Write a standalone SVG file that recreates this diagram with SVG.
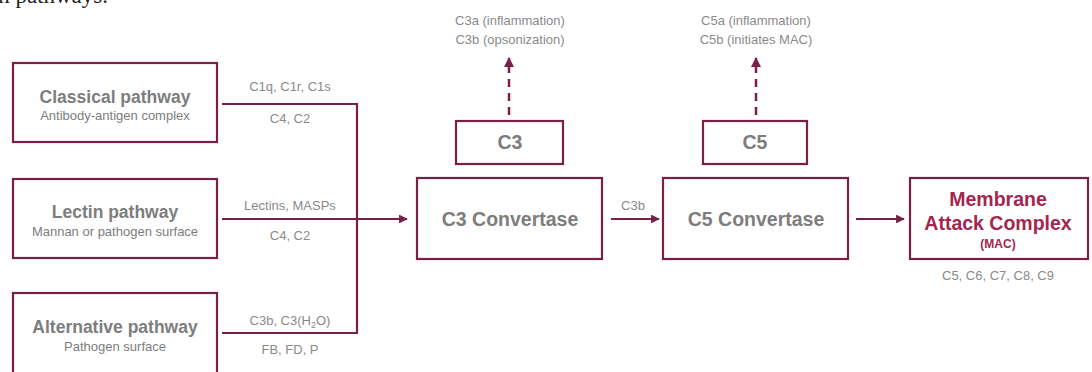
<svg xmlns="http://www.w3.org/2000/svg" width="1092" height="372" viewBox="0 0 1092 372">
<defs>
<style>
.box{fill:#fff;stroke:#7a1f47;stroke-width:2.2}
.ln{fill:none;stroke:#7a1f47;stroke-width:2.2}
.dash{fill:none;stroke:#7a1f47;stroke-width:2.5;stroke-dasharray:8 6}
.t{font-family:"Liberation Sans",Arial,sans-serif;fill:#7d7d7d;text-anchor:middle}
.title{font-size:17.5px;font-weight:bold}
.sub{font-size:13px}
.lbl{font-size:13px;fill:#8a8a8a}
.big{font-size:19.5px;font-weight:bold}
.mac{fill:#a3264f;font-weight:bold}
</style>
<marker id="ah" viewBox="0 0 10 10" refX="9" refY="5" markerWidth="4" markerHeight="4" orient="auto">
<path d="M0,0 L10,5 L0,10 z" fill="#7a1f47"/>
</marker>
</defs>
<rect width="1092" height="372" fill="#fff"/>
<text x="108" y="3" font-family="'Liberation Serif',serif" font-size="23" text-anchor="end" fill="#222">n pathways.</text>

<g id="connectors">
<polyline class="ln" points="222,104 357,104 357,333 222,333"/>
<line class="ln" x1="222" y1="219" x2="407" y2="219" marker-end="url(#ah)"/>
<line class="ln" x1="611" y1="219" x2="659" y2="219" marker-end="url(#ah)"/>
<line class="ln" x1="856" y1="219" x2="904" y2="219" marker-end="url(#ah)"/>
<line class="dash" x1="509" y1="115" x2="509" y2="58" marker-end="url(#ah)"/>
<line class="dash" x1="756" y1="115" x2="756" y2="58" marker-end="url(#ah)"/>
<text class="t lbl" x="290" y="91">C1q, C1r, C1s</text>
<text class="t lbl" x="290" y="123">C4, C2</text>
<text class="t lbl" x="290" y="210">Lectins, MASPs</text>
<text class="t lbl" x="290" y="240">C4, C2</text>
<text class="t lbl" x="290" y="325">C3b, C3(H<tspan font-size="9" dy="3">2</tspan><tspan dy="-3">O)</tspan></text>
<text class="t lbl" x="290" y="354">FB, FD, P</text>
<text class="t lbl" x="633" y="210">C3b</text>
<text class="t lbl" x="510" y="25">C3a (inflammation)</text>
<text class="t lbl" x="510" y="44">C3b (opsonization)</text>
<text class="t lbl" x="756" y="25">C5a (inflammation)</text>
<text class="t lbl" x="756" y="44">C5b (initiates MAC)</text>
</g>

<g id="classical">
<rect class="box" x="13" y="63" width="204" height="79"/>
<text class="t title" x="115" y="103">Classical pathway</text>
<text class="t sub" x="115" y="120">Antibody-antigen complex</text>
</g>
<g id="lectin">
<rect class="box" x="13" y="179" width="204" height="79"/>
<text class="t title" x="115" y="218">Lectin pathway</text>
<text class="t sub" x="115" y="236">Mannan or pathogen surface</text>
</g>
<g id="alternative">
<rect class="box" x="13" y="293" width="204" height="90"/>
<text class="t title" x="115" y="333">Alternative pathway</text>
<text class="t sub" x="115" y="351">Pathogen surface</text>
</g>
<g id="c3conv">
<rect class="box" x="417" y="178" width="185" height="81"/>
<text class="t big" x="510" y="226">C3 Convertase</text>
</g>
<g id="c5conv">
<rect class="box" x="663" y="178" width="185" height="81"/>
<text class="t big" x="756" y="226">C5 Convertase</text>
</g>
<g id="c3">
<rect class="box" x="456" y="121" width="107" height="43"/>
<text class="t big" x="510" y="149">C3</text>
</g>
<g id="c5">
<rect class="box" x="703" y="121" width="104" height="43"/>
<text class="t big" x="755" y="149">C5</text>
</g>
<g id="mac">
<rect class="box" x="910" y="178" width="178" height="81"/>
<text class="t big mac" x="998" y="206">Membrane</text>
<text class="t big mac" x="998" y="230">Attack Complex</text>
<text class="t mac" x="998" y="248" font-size="12">(MAC)</text>
<text class="t lbl" x="998" y="280">C5, C6, C7, C8, C9</text>
</g>
</svg>
